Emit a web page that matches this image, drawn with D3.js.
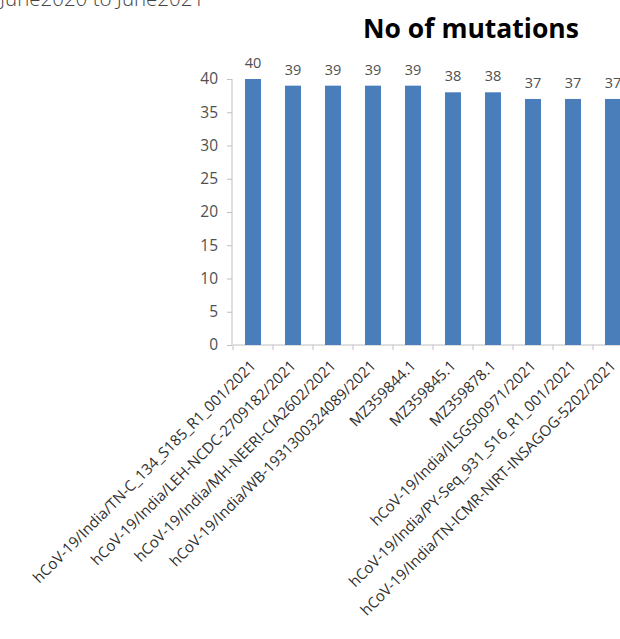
<!DOCTYPE html>
<html>
<head>
<meta charset="utf-8">
<script src="https://cdn.jsdelivr.net/npm/d3@7"></script>
<style>
  html, body { margin: 0; padding: 0; background: #fff; }
  svg { display: block; }
</style>
</head>
<body>
<svg id="chart" width="620" height="639"></svg>
<script>
// Sequences with the highest number of mutations
const categories = [
  "hCoV-19/India/TN-C_134_S185_R1_001/2021",
  "hCoV-19/India/LEH-NCDC-2709182/2021",
  "hCoV-19/India/MH-NEERI-CIA2602/2021",
  "hCoV-19/India/WB-1931300324089/2021",
  "MZ359844.1",
  "MZ359845.1",
  "MZ359878.1",
  "hCoV-19/India/ILSGS00971/2021",
  "hCoV-19/India/PY-Seq_931_S16_R1_001/2021",
  "hCoV-19/India/TN-ICMR-NIRT-INSAGOG-5202/2021"
];
const mutations = [40, 39, 39, 39, 39, 38, 38, 37, 37, 37];
const yTicks = [0, 5, 10, 15, 20, 25, 30, 35, 40];
const chartTitle = "No of mutations";
const periodText = "June2020 to June2021";

const svg = d3.select("#chart");
const font = "'Open Sans', Lato, sans-serif";
const axisColor = "#bfbfbf";
const textColor = "#505050";

const x = d3.scaleBand()
  .domain(categories)
  .range([233, 633])
  .paddingInner(0.6)
  .paddingOuter(0.3);

const y = d3.scaleLinear().domain([0, 40]).range([345, 79]);

// Period caption running off the top edge
svg.append("text")
  .attr("x", 0).attr("y", 6)
  .attr("font-family", font)
  .attr("font-weight", 300)
  .attr("font-size", 20.5)
  .attr("fill", "#444")
  .text(periodText);

// Title
svg.append("text")
  .attr("x", 471).attr("y", 38)
  .attr("text-anchor", "middle")
  .attr("font-family", font)
  .attr("font-weight", "bold")
  .attr("font-size", 26.5)
  .attr("fill", "#000")
  .text(chartTitle);

// Y axis
const yAxis = svg.append("g")
  .attr("transform", "translate(232,0)")
  .call(d3.axisLeft(y).tickValues(yTicks).tickSize(5).tickPadding(9));
yAxis.select(".domain").attr("stroke", axisColor).attr("d", `M0,${y(40)}V${y(0)}`);
yAxis.selectAll(".tick line").attr("stroke", axisColor);
yAxis.selectAll(".tick text")
  .attr("font-family", font)
  .attr("font-size", 15.5)
  .attr("fill", textColor);

// X axis baseline with ticks at band boundaries
const step = x.step();
const x0 = x.range()[0];
svg.append("line")
  .attr("x1", x0).attr("x2", x.range()[1])
  .attr("y1", y(0)).attr("y2", y(0))
  .attr("stroke", axisColor);
svg.selectAll(".cat-tick")
  .data(d3.range(categories.length + 1))
  .join("line")
  .attr("class", "cat-tick")
  .attr("x1", i => x0 + i * step).attr("x2", i => x0 + i * step)
  .attr("y1", y(0)).attr("y2", y(0) + 5)
  .attr("stroke", axisColor);

// Bars
svg.selectAll(".bar")
  .data(categories)
  .join("rect")
  .attr("class", "bar")
  .attr("x", d => x(d))
  .attr("width", x.bandwidth())
  .attr("y", (d, i) => y(mutations[i]))
  .attr("height", (d, i) => y(0) - y(mutations[i]))
  .attr("fill", "#4a7ebb");

// Value labels
svg.selectAll(".val")
  .data(categories)
  .join("text")
  .attr("class", "val")
  .attr("x", d => x(d) + x.bandwidth() / 2)
  .attr("y", (d, i) => y(mutations[i]) - 11)
  .attr("text-anchor", "middle")
  .attr("font-family", font)
  .attr("font-size", 14.5)
  .attr("fill", textColor)
  .text((d, i) => mutations[i]);

// Rotated category labels
svg.selectAll(".cat")
  .data(categories)
  .join("text")
  .attr("class", "cat")
  .attr("transform", d => `translate(${x(d) + x.bandwidth() / 2},363) rotate(-45)`)
  .attr("text-anchor", "end")
  .attr("dy", "0.35em")
  .attr("font-family", font)
  .attr("font-size", 15)
  .attr("fill", "#303030")
  .text(d => d);
</script>
</body>
</html>
